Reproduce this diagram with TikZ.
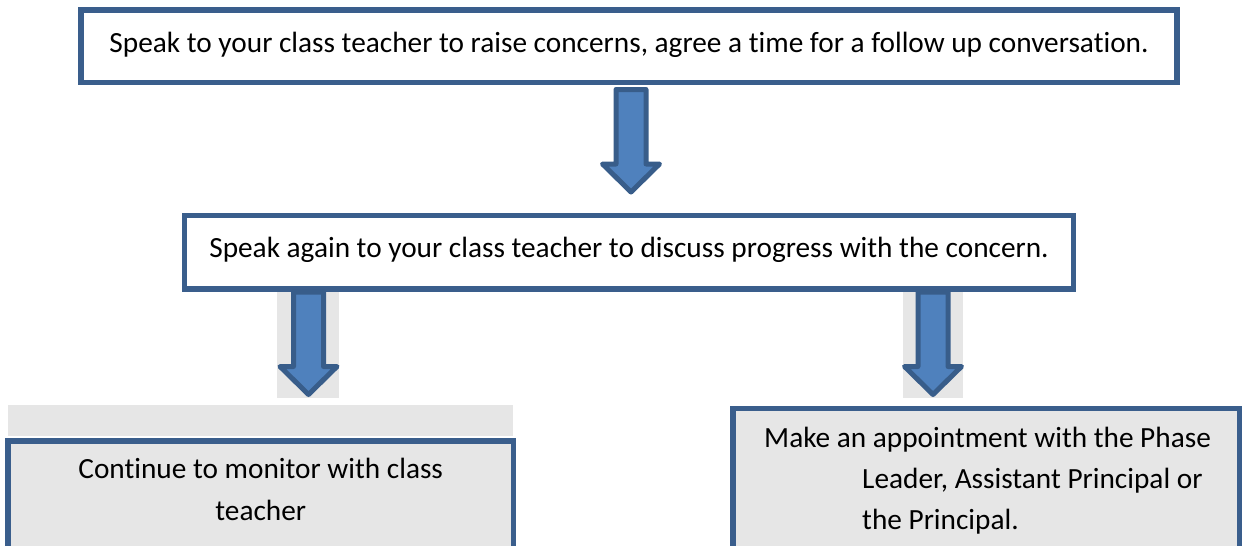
\documentclass[tikz,border=0pt]{standalone}
\usepackage{fontspec}
\setmainfont{Carlito}[RawFeature={-liga;-clig;-calt;-dlig}]
\definecolor{edge}{RGB}{58,94,140}
\definecolor{arrowfill}{RGB}{79,129,189}
\definecolor{arrowedge}{RGB}{56,93,138}
\definecolor{panel}{RGB}{230,230,230}
\begin{document}
\begin{tikzpicture}[x=1pt,y=-1pt,
  box/.style={draw=edge, line width=5.5pt, rectangle, inner sep=0pt,
    font=\fontsize{29.3pt}{41pt}\selectfont},
  txt/.style={inner sep=0pt, font=\fontsize{29.3pt}{41pt}\selectfont},
  backing/.style={fill=panel, draw=none},
  arrowbody/.style={fill=arrowfill, draw=arrowedge, line width=5pt, line join=round},
  pics/downarrow/.style={code={
    \draw[arrowbody] (-15,0) -- (15,0) -- (15,#1-28) -- (28.5,#1-28)
      -- (0,#1) -- (-28.5,#1-28) -- (-15,#1-28) -- cycle;}}]
\useasboundingbox (0,0) rectangle (1242,546);
\clip (0,0) rectangle (1242,546);

% grey backings behind the lower arrows and above the left panel
\fill[backing] (277,291) rectangle (339,398);
\fill[backing] (903,291) rectangle (963,398);
\fill[backing] (8,405) rectangle (513,436);

% step boxes
\node[box, fill=white, minimum width=1096pt, minimum height=72.5pt,
  text height=20pt, text depth=7.5pt] (b1) at (629,46.25)
  {Speak to your class teacher to raise concerns, agree a time for a follow up conversation.};
\node[box, fill=white, minimum width=889pt, minimum height=73.5pt,
  text height=20pt, text depth=9pt] (b2) at (629,252.25)
  {Speak again to your class teacher to discuss progress with the concern.};
\node[box, fill=panel, minimum width=505.5pt, minimum height=130pt, anchor=north]
  (b3) at (260.75,438) {};
\node[box, fill=panel, minimum width=507pt, minimum height=160pt, anchor=north]
  (b4) at (986.5,405.5) {};

% texts of the lower boxes
\node[txt, anchor=base] (t3a) at (260.75,478) {Continue to monitor with class};
\node[txt, anchor=base] (t3b) at (260.75,520) {teacher};
\node[txt, anchor=base west] (t4a) at (764,447) {Make an appointment with the Phase};
\node[txt, anchor=base west] (t4b) at (862,488) {Leader, Assistant Principal or};
\node[txt, anchor=base west] (t4c) at (862,529) {the Principal.};

% block arrows between the steps
\pic at (631,89.5) {downarrow=102.5};
\pic at (308.5,292) {downarrow=102.5};
\pic at (933,292) {downarrow=102.5};
\end{tikzpicture}
\end{document}
